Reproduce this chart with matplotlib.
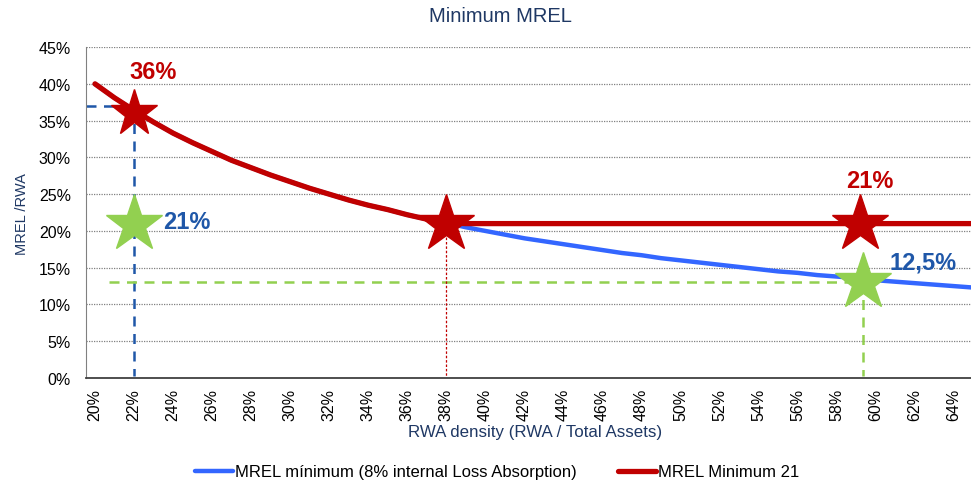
import matplotlib
matplotlib.use("Agg")
import matplotlib.pyplot as plt

plt.rcParams['font.family'] = ['Liberation Sans', 'DejaVu Sans']

# RWA density (%) and MREL / RWA (%)
density = list(range(20, 66))
mrel_min = [40.0, 38.1, 36.4, 34.8, 33.3, 32.0, 30.8, 29.6, 28.6, 27.6,
            26.7, 25.8, 25.0, 24.2, 23.5, 22.9, 22.2, 21.6, 21.1, 20.5,
            20.0, 19.5, 19.0, 18.6, 18.2, 17.8, 17.4, 17.0, 16.7, 16.3,
            16.0, 15.7, 15.4, 15.1, 14.8, 14.5, 14.3, 14.0, 13.8, 13.6,
            13.3, 13.1, 12.9, 12.7, 12.5, 12.3]
mrel_21 = [40.0, 38.1, 36.4, 34.8, 33.3, 32.0, 30.8, 29.6, 28.6, 27.6,
           26.7, 25.8, 25.0, 24.2, 23.5, 22.9, 22.2, 21.6, 21.1, 21.0,
           21.0, 21.0, 21.0, 21.0, 21.0, 21.0, 21.0, 21.0, 21.0, 21.0,
           21.0, 21.0, 21.0, 21.0, 21.0, 21.0, 21.0, 21.0, 21.0, 21.0,
           21.0, 21.0, 21.0, 21.0, 21.0, 21.0]

# highlighted points
red_star_x = [22, 38, 59.2]
red_star_y = [36, 21, 21]
green_star_x = [22, 59.35]
green_star_y = [21, 13]

tick_labels = [f"{v}%" for v in range(20, 65, 2)]

red = "#C00000"
blue = "#3366FF"
dark_blue = "#1F57A8"
green = "#92D050"
navy = "#1F3864"

fig = plt.figure(figsize=(9.71, 4.81), dpi=100)
ax = fig.add_axes([0.0886, 0.212, 1 - 0.0886, 0.688])

ax.set_xlim(19.54, 64.88)
ax.set_ylim(0, 45)

# guide lines
ax.plot([19.54, 22], [37, 37], color=dark_blue, lw=1.8, ls=(0, (4, 3)), zorder=2)
ax.plot([22, 22], [37, 0.3], color=dark_blue, lw=1.8, ls=(0, (4, 3)), zorder=2)
ax.plot([20.7, 59.35], [13, 13], color=green, lw=1.8, ls=(0, (4, 3)), zorder=2)
ax.plot([59.35, 59.35], [13, 0.3], color=green, lw=1.8, ls=(0, (4, 3)), zorder=2)
ax.plot([38, 38], [21, 0.3], color=red, lw=0.9, ls=(0, (2, 1.5)), zorder=2)

ax.plot(density, mrel_min, color=blue, lw=3.2, zorder=3, solid_capstyle="round",
        label="MREL mínimum (8% internal Loss Absorption)")
ax.plot(density, mrel_21, color=red, lw=3.8, zorder=4, solid_capstyle="round",
        label="MREL Minimum 21")

ax.plot(red_star_x[:1], red_star_y[:1], ls="none", marker="*", ms=35, color=red, zorder=5)
ax.plot(red_star_x[1:], red_star_y[1:], ls="none", marker="*", ms=43, color=red, zorder=5)
ax.plot(green_star_x, green_star_y, ls="none", marker="*", ms=43, color=green, zorder=5)

ax.text(23.0, 41.7, "36%", color=red, fontsize=17, fontweight="bold", ha="center", va="center")
ax.text(24.7, 21.3, "21%", color=dark_blue, fontsize=17, fontweight="bold", ha="center", va="center")
ax.text(59.7, 26.8, "21%", color=red, fontsize=17, fontweight="bold", ha="center", va="center")
ax.text(62.4, 15.8, "12,5%", color=dark_blue, fontsize=17, fontweight="bold", ha="center", va="center")

ax.set_yticks(range(0, 46, 5))
ax.set_yticklabels([f"{v}%" for v in range(0, 46, 5)])
ax.set_xticks(range(20, 65, 2))
ax.set_xticklabels(tick_labels, rotation=90)
ax.tick_params(axis="y", length=0, pad=11, labelsize=11.5)
ax.tick_params(axis="x", length=0, pad=7, labelsize=11.5)

ax.grid(axis="y", color="#808080", ls=(0, (1, 1)), lw=0.9, zorder=0)
ax.set_axisbelow(True)
for s in ["top", "right"]:
    ax.spines[s].set_visible(False)
ax.spines["left"].set_color("#808080")
ax.spines["bottom"].set_color("#404040")
ax.spines["bottom"].set_linewidth(1.3)

fig.text(0.515, 1 - 17 / 481, "Minimum MREL", color=navy, fontsize=14.5, ha="center", va="center")
fig.text(22 / 971, 0.556, "MREL /RWA", color=navy, fontsize=10.5, rotation=90, ha="center", va="center")
fig.text(535 / 971, 1 - 433 / 481, "RWA density (RWA / Total Assets)", color=navy, fontsize=12.2,
         ha="center", va="center")

fig.legend(loc="center", bbox_to_anchor=(497 / 971, 1 - 473 / 481), ncol=2, frameon=False,
           fontsize=12, handlelength=2.3, handletextpad=0.1, columnspacing=2.5)

fig.savefig("out.png", dpi=100)
